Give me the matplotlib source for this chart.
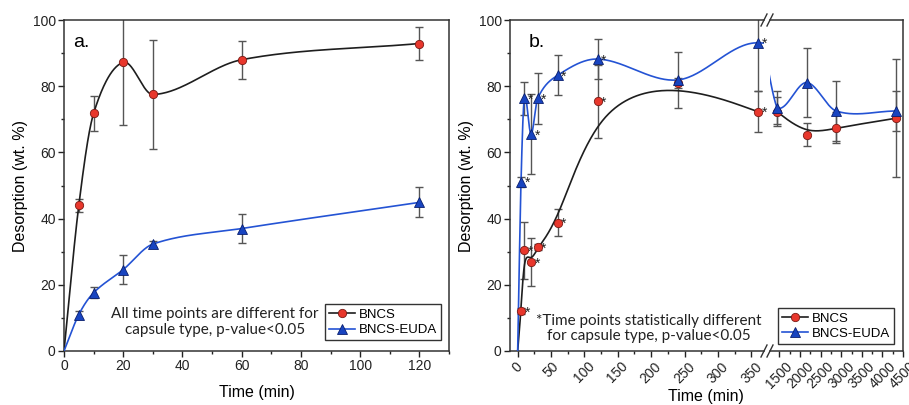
import numpy as np
import matplotlib
matplotlib.use("Agg")
import matplotlib.pyplot as plt
from matplotlib.lines import Line2D
from matplotlib.ticker import MultipleLocator

# panel a: desorption over the first two hours
a_time = [0, 5, 10, 20, 30, 60, 120]
a_bncs = [0, 44.0, 71.8, 87.2, 77.5, 88.0, 92.9]
a_bncs_err = [0, 2.0, 5.2, 18.8, 16.6, 5.8, 5.0]
a_euda = [0, 11.0, 17.6, 24.6, 32.3, 37.0, 44.9]
a_euda_err = [0, 1.2, 1.6, 4.4, 1.0, 4.5, 4.5]

# panel b: desorption up to 72 h (broken time axis)
b_time = [0, 5, 10, 20, 30, 60, 120, 240, 360, 1440, 2160, 2880, 4320]
b_bncs = [0, 12.1, 30.4, 26.9, 31.4, 38.8, 75.5, 81.0, 72.3, 72.3, 65.4, 67.4, 70.3]
b_bncs_err = [0, 0.8, 8.7, 7.2, 1.0, 4.2, 11.0, 1.5, 6.1, 4.3, 3.4, 4.7, 17.8]
b_euda = [0, 51.1, 76.3, 65.5, 76.3, 83.3, 88.2, 81.9, 93.1, 73.5, 81.1, 72.5, 72.5]
b_euda_err = [0, 1.5, 5.0, 12.0, 7.8, 6.1, 6.0, 8.5, 14.6, 5.0, 10.4, 9.0, 6.0]
b_signif = [0, 1, 1, 1, 1, 1, 1, 0, 1, 0, 0, 0, 0]

RED = "#e8372c"
RED_EDGE = "#7a1a14"
BLUE = "#1844c0"
BLUE_EDGE = "#0a1f6e"
BLUE_LINE = "#2453d4"
BLACK_LINE = "#1e1e1e"
ERR = "#555555"

plt.rcParams["font.family"] = ["Liberation Sans", "DejaVu Sans"]
NOTE_FONT = ["Lato", "DejaVu Sans"]


def hermite_curve(x, y, n=60):
    # smooth curve through the points, tangents from neighbouring chords
    x = np.asarray(x, float)
    y = np.asarray(y, float)
    m = np.empty(len(x))
    m[1:-1] = (y[2:] - y[:-2]) / (x[2:] - x[:-2])
    m[0] = (y[1] - y[0]) / (x[1] - x[0])
    m[-1] = (y[-1] - y[-2]) / (x[-1] - x[-2])
    t = np.linspace(0, 1, n)
    h00 = 2 * t ** 3 - 3 * t ** 2 + 1
    h10 = t ** 3 - 2 * t ** 2 + t
    h01 = -2 * t ** 3 + 3 * t ** 2
    h11 = t ** 3 - t ** 2
    xs, ys = [], []
    for i in range(len(x) - 1):
        h = x[i + 1] - x[i]
        xs.append(x[i] + t * h)
        ys.append(h00 * y[i] + h10 * h * m[i] + h01 * y[i + 1] + h11 * h * m[i + 1])
    return np.concatenate(xs), np.concatenate(ys)


def natural_spline(x, y, n=60):
    x = np.asarray(x, float)
    y = np.asarray(y, float)
    h = np.diff(x)
    k = len(x)
    A = np.zeros((k, k))
    r = np.zeros(k)
    A[0, 0] = A[-1, -1] = 1
    for i in range(1, k - 1):
        A[i, i - 1] = h[i - 1]
        A[i, i] = 2 * (h[i - 1] + h[i])
        A[i, i + 1] = h[i]
        r[i] = 6 * ((y[i + 1] - y[i]) / h[i] - (y[i] - y[i - 1]) / h[i - 1])
    m = np.linalg.solve(A, r)
    xs, ys = [], []
    for i in range(k - 1):
        t = np.linspace(x[i], x[i + 1], n)
        a = x[i + 1] - t
        b = t - x[i]
        s = (m[i] * a ** 3 + m[i + 1] * b ** 3) / (6 * h[i]) \
            + (y[i] / h[i] - m[i] * h[i] / 6) * a \
            + (y[i + 1] / h[i] - m[i + 1] * h[i] / 6) * b
        xs.append(t)
        ys.append(s)
    return np.concatenate(xs), np.concatenate(ys)


def bspline_curve(x, y, n=60):
    # uniform cubic B-spline using the points as control points
    p = np.column_stack([x, y]).astype(float)
    p = np.vstack([p[:1], p[:1], p, p[-1:], p[-1:]])
    t = np.linspace(0, 1, n)[:, None]
    b0 = (1 - t) ** 3 / 6
    b1 = (3 * t ** 3 - 6 * t ** 2 + 4) / 6
    b2 = (-3 * t ** 3 + 3 * t ** 2 + 3 * t + 1) / 6
    b3 = t ** 3 / 6
    segs = [b0 * p[i] + b1 * p[i + 1] + b2 * p[i + 2] + b3 * p[i + 3]
            for i in range(len(p) - 3)]
    c = np.vstack(segs)
    return c[:, 0], c[:, 1]


def draw_points(ax, x, y, err, marker, face, edge):
    ax.errorbar(x, y, yerr=err, fmt="none", ecolor=ERR, elinewidth=1.0,
                capsize=3, capthick=1.0, zorder=2)
    ax.plot(x, y, linestyle="none", marker=marker,
            markersize=6.5 if marker == "^" else 6,
            markerfacecolor=face, markeredgecolor=edge, markeredgewidth=0.6,
            zorder=4)


def style_axis(ax):
    ax.tick_params(axis="both", which="major", direction="out", length=4,
                   width=1, labelsize=10, colors="#222222", pad=2)
    ax.tick_params(axis="both", which="minor", direction="out", length=2.3,
                   width=1, colors="#222222")
    for s in ax.spines.values():
        s.set_linewidth(1.1)
        s.set_color("#333333")


def legend(ax, anchor):
    handles = [
        Line2D([], [], color=BLACK_LINE, lw=1.2, marker="o", markersize=6,
               markerfacecolor=RED, markeredgecolor=RED_EDGE, markeredgewidth=0.6),
        Line2D([], [], color=BLUE_LINE, lw=1.2, marker="^", markersize=7,
               markerfacecolor=BLUE, markeredgecolor=BLUE_EDGE, markeredgewidth=0.6),
    ]
    lg = ax.legend(handles, ["BNCS", "BNCS-EUDA"], loc="lower right",
                   bbox_to_anchor=anchor, borderaxespad=0, fontsize=9.5,
                   handlelength=2.0, handletextpad=0.25, borderpad=0.3,
                   labelspacing=0.25, fancybox=False, framealpha=1)
    lg.get_frame().set_edgecolor("#333333")
    lg.get_frame().set_linewidth(1.0)
    lg.set_zorder(6)


W, H = 909, 405
fig = plt.figure(figsize=(W / 100, H / 100), dpi=100)


def px_axes(x0, x1, y0, y1):
    return fig.add_axes([x0 / W, 1 - y1 / H, (x1 - x0) / W, (y1 - y0) / H])


# ---------------- panel a ----------------
ax = px_axes(64, 449, 20, 351)
ax.set_xlim(0, 130)
ax.set_ylim(0, 100)
cx, cy = hermite_curve(a_time, a_bncs)
ax.plot(cx, cy, color=BLACK_LINE, lw=1.2, zorder=3)
cx, cy = hermite_curve(a_time, a_euda)
ax.plot(cx, cy, color=BLUE_LINE, lw=1.2, zorder=3)
draw_points(ax, a_time[1:], a_bncs[1:], a_bncs_err[1:], "o", RED, RED_EDGE)
draw_points(ax, a_time[1:], a_euda[1:], a_euda_err[1:], "^", BLUE, BLUE_EDGE)
ax.xaxis.set_major_locator(MultipleLocator(20))
ax.xaxis.set_minor_locator(MultipleLocator(10))
ax.yaxis.set_major_locator(MultipleLocator(20))
ax.yaxis.set_minor_locator(MultipleLocator(10))
style_axis(ax)
ax.set_ylabel("Desorption (wt. %)", fontsize=11.5, labelpad=3)
ax.text(0.023, 0.919, "a.", transform=ax.transAxes, fontsize=14, va="baseline")
ax.text(0.392, 0.088, "All time points are different for\ncapsule type, p-value<0.05",
        transform=ax.transAxes, ha="center", va="center", fontsize=11,
        family=NOTE_FONT, linespacing=1.15, color="#222222")
legend(ax, (0.979, 0.033))
fig.text(257 / W, 1 - 392 / H, "Time (min)", ha="center", va="center", fontsize=11.5)

# ---------------- panel b (broken axis) ----------------
ax1 = px_axes(510, 764, 20, 351)
ax2 = px_axes(770, 903, 20, 351)
ax1.set_xlim(-11.5, 369)
ax2.set_xlim(1270, 4500)
for a in (ax1, ax2):
    a.set_ylim(0, 100)

# BNCS: B-spline per axis segment
bx, by = bspline_curve(b_time[:9], b_bncs[:9])
ax1.plot(bx, by, color=BLACK_LINE, lw=1.2, zorder=3)
bx, by = bspline_curve(b_time[9:], b_bncs[9:])
ax2.plot(bx, by, color=BLACK_LINE, lw=1.2, zorder=3)

# BNCS-EUDA: spline through the points
ux, uy = hermite_curve(b_time, b_euda)
ax1.plot(ux, uy, color=BLUE_LINE, lw=1.2, zorder=3)
nx, ny = natural_spline(b_time, b_euda, n=120)
gap = (nx > b_time[8]) & (nx <= b_time[9])
ax2.plot(nx[gap], ny[gap], color=BLUE_LINE, lw=1.2, zorder=3)
ax2.plot(ux[ux >= b_time[9]], uy[ux >= b_time[9]], color=BLUE_LINE, lw=1.2, zorder=3)

for a in (ax1, ax2):
    draw_points(a, b_time[1:], b_bncs[1:], b_bncs_err[1:], "o", RED, RED_EDGE)
    draw_points(a, b_time[1:], b_euda[1:], b_euda_err[1:], "^", BLUE, BLUE_EDGE)

for t, yb, ye, s in zip(b_time, b_bncs, b_euda, b_signif):
    if s:
        for yy in (yb, ye):
            ax1.annotate("*", (t, yy), xytext=(2.5, -1), textcoords="offset points",
                         fontsize=10, ha="left", va="center", color="#222222")

ax1.spines["right"].set_visible(False)
ax2.spines["left"].set_visible(False)
ax2.tick_params(axis="y", which="both", left=False, labelleft=False)
ax1.xaxis.set_major_locator(MultipleLocator(50))
ax1.xaxis.set_minor_locator(MultipleLocator(25))
ax2.set_xticks([1500, 2000, 2500, 3000, 3500, 4000, 4500])
ax2.xaxis.set_minor_locator(MultipleLocator(250))
ax1.yaxis.set_major_locator(MultipleLocator(20))
ax1.yaxis.set_minor_locator(MultipleLocator(10))
for a in (ax1, ax2):
    style_axis(a)
    for lab in a.get_xticklabels():
        lab.set_rotation(45)
ax1.set_ylabel("Desorption (wt. %)", fontsize=11.5, labelpad=3)
ax1.text(0.075, 0.919, "b.", transform=ax1.transAxes, fontsize=14, va="baseline")
ax1.text(0.547, 0.068, "*Time points statistically different\nfor capsule type, p-value<0.05",
         transform=ax1.transAxes, ha="center", va="center", fontsize=11,
         family=NOTE_FONT, linespacing=1.15, color="#222222", zorder=5)
legend(ax2, (0.932, 0.021))
fig.text(706 / W, 1 - 397 / H, "Time (min)", ha="center", va="center", fontsize=11.5)

# break marks on the top and bottom spines
for yb in (20, 351):
    for xc in (764, 770):
        fig.add_artist(Line2D([(xc - 3) / W, (xc + 3) / W],
                              [1 - (yb + 6) / H, 1 - (yb - 6) / H],
                              transform=fig.transFigure, color="#333333", lw=1.0))

fig.savefig("out.png", dpi=100)
